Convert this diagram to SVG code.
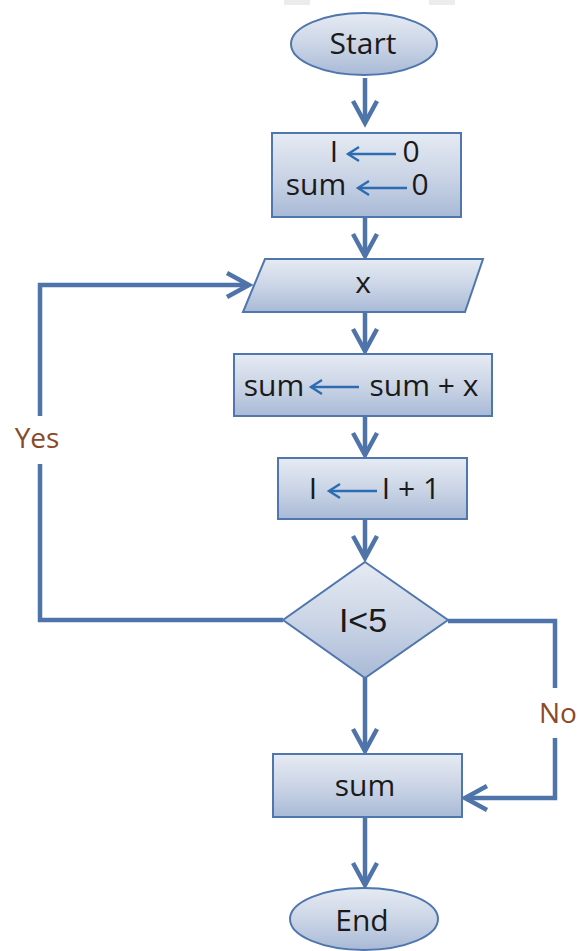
<svg xmlns="http://www.w3.org/2000/svg" width="578" height="951" viewBox="0 0 578 951">
<defs>
<linearGradient id="g" x1="0" y1="0" x2="0" y2="1">
<stop offset="0" stop-color="#e6ebf3"/>
<stop offset="0.5" stop-color="#cbd5e6"/>
<stop offset="1" stop-color="#a9bad6"/>
</linearGradient>
<marker id="ah" markerUnits="userSpaceOnUse" markerWidth="34" markerHeight="34" viewBox="-28 -17 34 34" refX="0" refY="0" orient="auto">
<path d="M-22,-12 L0,0 L-22,12" fill="none" stroke="#4f74aa" stroke-width="4.5" stroke-linejoin="miter"/>
</marker>
<marker id="sa" markerUnits="userSpaceOnUse" markerWidth="18" markerHeight="18" viewBox="-14 -9 18 18" refX="0" refY="0" orient="auto">
<path d="M-11,-7 L0,0 L-11,7" fill="none" stroke="#2d6cb2" stroke-width="2.4"/>
</marker>
</defs>
<style>
.shape{fill:url(#g);stroke:#4f76ad;stroke-width:2}
.t{font-family:"Open Sans","Noto Sans",sans-serif;font-size:30px;font-weight:500;fill:#1a1a1a}
.lab{font-family:"Open Sans","Noto Sans",sans-serif;font-size:28px;font-weight:500;fill:#8a4a2a}
.c{fill:none;stroke:#4f74aa;stroke-width:4.5}
.sarr{stroke:#2d6cb2;stroke-width:2.6;fill:none}
</style>
<rect width="578" height="951" fill="#ffffff"/>
<rect x="284" y="0" width="26" height="5" fill="#ececec"/>
<rect x="429" y="0" width="26" height="5" fill="#ececec"/>
<g id="connectors">
<line class="c" x1="365" y1="78" x2="365" y2="123" marker-end="url(#ah)"/>
<line class="c" x1="365" y1="217" x2="365" y2="256" marker-end="url(#ah)"/>
<line class="c" x1="365" y1="312" x2="365" y2="351" marker-end="url(#ah)"/>
<line class="c" x1="365" y1="416" x2="365" y2="455" marker-end="url(#ah)"/>
<line class="c" x1="365" y1="519" x2="365" y2="558" marker-end="url(#ah)"/>
<line class="c" x1="365" y1="678" x2="365" y2="751" marker-end="url(#ah)"/>
<line class="c" x1="365" y1="817" x2="365" y2="885" marker-end="url(#ah)"/>
<polyline class="c" points="283,620 40,620 40,464"/>
<polyline class="c" points="40,416 40,285 249,285" marker-end="url(#ah)"/>
<polyline class="c" points="448,621 555,621 555,688"/>
<polyline class="c" points="555,738 555,798 465,798" marker-end="url(#ah)"/>
<text class="lab" x="37" y="448" text-anchor="middle">Yes</text>
<text class="lab" x="539" y="723">No</text>
</g>
<g id="start">
<ellipse class="shape" cx="364" cy="44" rx="73" ry="31"/>
<text class="t" x="363" y="54" text-anchor="middle">Start</text>
</g>
<g id="init">
<rect class="shape" x="272" y="133" width="189" height="84"/>
<text class="t" x="334" y="162" text-anchor="middle">I</text>
<line class="sarr" x1="396" y1="154" x2="348" y2="154" marker-end="url(#sa)"/>
<text class="t" x="411" y="162" text-anchor="middle">0</text>
<text class="t" x="316" y="195" text-anchor="middle">sum</text>
<line class="sarr" x1="407" y1="188" x2="358" y2="188" marker-end="url(#sa)"/>
<text class="t" x="420" y="195" text-anchor="middle">0</text>
</g>
<g id="input">
<polygon class="shape" points="265,259 483,259 465,312 243,312"/>
<text class="t" x="363" y="293" text-anchor="middle">x</text>
</g>
<g id="accumulate">
<rect class="shape" x="234" y="354" width="258" height="62"/>
<text class="t" x="274" y="396" text-anchor="middle">sum</text>
<line class="sarr" x1="359" y1="387" x2="311" y2="387" marker-end="url(#sa)"/>
<text class="t" x="424" y="396" text-anchor="middle">sum + x</text>
</g>
<g id="increment">
<rect class="shape" x="278" y="458" width="189" height="61"/>
<text class="t" x="313" y="499" text-anchor="middle">I</text>
<line class="sarr" x1="377" y1="491" x2="329" y2="491" marker-end="url(#sa)"/>
<text class="t" x="411" y="499" text-anchor="middle">I + 1</text>
</g>
<g id="decision">
<polygon class="shape" points="365,562 448,620 365,678 283,620"/>
<text x="363" y="632" text-anchor="middle" font-family="Liberation Sans, Arial, sans-serif" font-size="34" fill="#1a1a1a">I&lt;5</text>
</g>
<g id="output">
<rect class="shape" x="273" y="754" width="189" height="63"/>
<text class="t" x="365" y="796" text-anchor="middle">sum</text>
</g>
<g id="end">
<ellipse class="shape" cx="364" cy="919" rx="74" ry="31"/>
<text class="t" x="362" y="931" text-anchor="middle">End</text>
</g>
</svg>
